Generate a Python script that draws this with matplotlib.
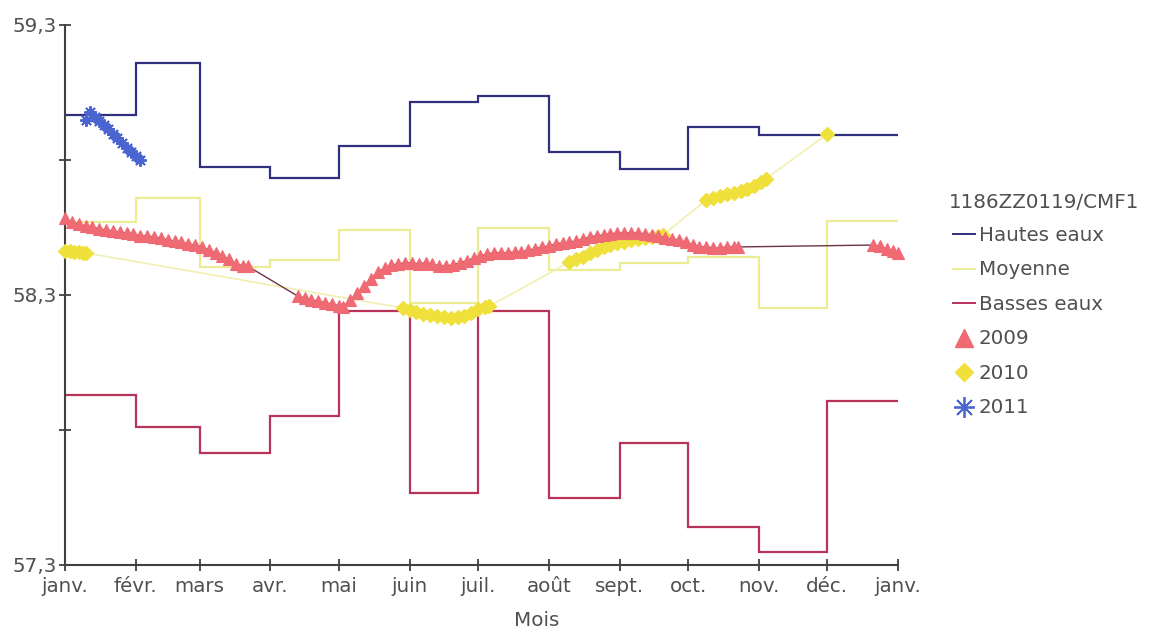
import matplotlib
matplotlib.use("Agg")
import matplotlib.pyplot as plt
from matplotlib.lines import Line2D

# Month boundaries (day of year) and their labels
month_edges = [0, 31, 59, 90, 120, 151, 181, 212, 243, 273, 304, 334, 365]
month_labels = ["janv.", "févr.", "mars", "avr.", "mai", "juin", "juil.",
                "août", "sept.", "oct.", "nov.", "déc.", "janv."]

# Monthly reference levels (m)
hautes_eaux = [58.967, 59.159, 58.774, 58.733, 58.852, 59.015,
               59.037, 58.830, 58.767, 58.922, 58.893, 58.893]
moyenne = [58.570, 58.659, 58.404, 58.430, 58.541, 58.270,
           58.548, 58.393, 58.419, 58.441, 58.252, 58.574]
basses_eaux = [57.930, 57.810, 57.716, 57.852, 58.242, 57.568,
               58.242, 57.547, 57.753, 57.440, 57.347, 57.909]

# Yearly measurements: day of year and level (m)
days_2009 = [0, 3, 6, 9, 12, 15, 18, 21, 24, 27, 30, 33, 36, 39, 42, 45, 48,
             51, 54, 57, 60, 63, 66, 69, 72, 75, 78, 80,
             102, 105, 108, 111, 114, 117, 120, 122, 125, 128, 131, 134, 137,
             140, 143, 146, 149, 152, 155, 158, 161, 164, 167, 170, 173, 176,
             179, 182, 185, 188, 191, 194, 197, 200, 203, 206, 209, 212, 215,
             218, 221, 224, 227, 230, 233, 236, 239, 242, 245, 248, 251, 254,
             257, 260, 263, 266, 269, 272, 275, 278, 281, 284, 287, 290, 293,
             295,
             354, 357, 360, 363, 365]
level_2009 = [58.585, 58.570, 58.563, 58.556, 58.552, 58.544, 58.541, 58.537,
              58.533, 58.530, 58.526, 58.519, 58.519, 58.515, 58.511, 58.504,
              58.500, 58.496, 58.489, 58.485, 58.478, 58.467, 58.456, 58.444,
              58.433, 58.415, 58.407, 58.407,
              58.296, 58.289, 58.281, 58.278, 58.270, 58.267, 58.259, 58.256,
              58.281, 58.307, 58.333, 58.359, 58.385, 58.400, 58.411, 58.415,
              58.419, 58.419, 58.415, 58.419, 58.415, 58.407, 58.407, 58.411,
              58.419, 58.426, 58.437, 58.444, 58.452, 58.456, 58.456, 58.456,
              58.459, 58.459, 58.467, 58.470, 58.478, 58.481, 58.489, 58.493,
              58.496, 58.500, 58.507, 58.515, 58.519, 58.522, 58.526, 58.530,
              58.530, 58.530, 58.530, 58.526, 58.522, 58.519, 58.511, 58.507,
              58.504, 58.496, 58.485, 58.478, 58.478, 58.474, 58.474, 58.478,
              58.478, 58.478,
              58.485, 58.481, 58.470, 58.463, 58.456]

days_2010 = [0, 2, 4, 6, 8, 9,
             148, 151, 154, 157, 160, 163, 166, 169, 172, 175, 178, 181, 184,
             186,
             221, 224, 227, 230, 233, 236, 239, 242, 245, 248, 251, 254, 257,
             260, 262,
             281, 284, 287, 290, 293, 296, 299, 302, 305, 307,
             334]
level_2010 = [58.463, 58.463, 58.461, 58.459, 58.457, 58.456,
              58.252, 58.244, 58.237, 58.230, 58.226, 58.222, 58.219, 58.215,
              58.217, 58.222, 58.233, 58.248, 58.256, 58.259,
              58.422, 58.433, 58.441, 58.456, 58.467, 58.478, 58.485, 58.493,
              58.496, 58.504, 58.507, 58.511, 58.515, 58.519, 58.522,
              58.652, 58.659, 58.667, 58.674, 58.678, 58.685, 58.693, 58.704,
              58.719, 58.730,
              58.896]

days_2011 = [9, 11, 13, 15, 17, 19, 21, 23, 25, 27, 29, 31, 33]
level_2011 = [58.950, 58.978, 58.959, 58.944, 58.930, 58.915, 58.896, 58.881,
              58.863, 58.844, 58.830, 58.815, 58.800]

station = "1186ZZ0119/CMF1"

# Colours
c_hautes = "#30307e"
c_moyenne = "#ecec94"
c_basses = "#b8325a"
c_2009 = "#f06a74"
c_2009_line = "#6e3446"
c_2010 = "#f0e03c"
c_2010_line = "#f2efb0"
c_2011 = "#4a64d0"
c_text = "#505050"
c_axis = "#404040"

plt.rcParams["font.family"] = ["DejaVu Sans"]
fs = 14.3

fig = plt.figure(figsize=(11.5, 6.31), dpi=100)
ax = fig.add_axes([65 / 1150, 66 / 631, 833 / 1150, 540 / 631])

ax.stairs(moyenne, month_edges, baseline=None, color=c_moyenne, lw=1.6, zorder=2)
ax.stairs(hautes_eaux, month_edges, baseline=None, color=c_hautes, lw=1.6, zorder=2)
ax.stairs(basses_eaux, month_edges, baseline=None, color=c_basses, lw=1.6, zorder=2)

ax.plot(days_2010, level_2010, color=c_2010_line, lw=1.2, zorder=3,
        marker="D", markersize=7, markerfacecolor=c_2010,
        markeredgecolor=c_2010, clip_on=False)
ax.plot(days_2009, level_2009, color=c_2009_line, lw=1.0, zorder=4,
        marker="^", markersize=8.5, markerfacecolor=c_2009,
        markeredgecolor=c_2009, markeredgewidth=0.8, clip_on=False)
ax.plot(days_2011, level_2011, linestyle="none", zorder=5,
        marker=(8, 2, 0), markersize=9, markeredgecolor=c_2011,
        markeredgewidth=1.4, clip_on=False)

ax.set_xlim(0, 365)
ax.set_ylim(57.3, 59.3)
ax.set_xticks(month_edges)
ax.set_xticklabels(month_labels)
yt = [57.3, 58.3, 59.3]
ax.set_yticks(yt)
ax.set_yticklabels([f"{v:.1f}".replace(".", ",") for v in yt])
ax.set_yticks([57.8, 58.8], minor=True)
ax.tick_params(which="both", direction="inout", length=8, width=1.3,
               color=c_axis, labelcolor=c_text, labelsize=fs)
ax.tick_params(axis="x", pad=4.5)
ax.tick_params(axis="y", pad=2)

for side in ("top", "right"):
    ax.spines[side].set_visible(False)
for side in ("left", "bottom"):
    ax.spines[side].set_color(c_axis)
    ax.spines[side].set_linewidth(1.5)

fig.text(537 / 1150, 1 - 620 / 631, "Mois", ha="center", va="center",
         fontsize=fs, color=c_text)

handles = [
    Line2D([], [], color=c_hautes, lw=1.4),
    Line2D([], [], color=c_moyenne, lw=1.4),
    Line2D([], [], color=c_basses, lw=1.4),
    Line2D([], [], linestyle="none", marker="^", markersize=13,
           markerfacecolor=c_2009, markeredgecolor=c_2009),
    Line2D([], [], linestyle="none", marker="D", markersize=9,
           markerfacecolor=c_2010, markeredgecolor=c_2010),
    Line2D([], [], linestyle="none", marker=(8, 2, 0), markersize=15,
           markeredgecolor=c_2011, markeredgewidth=1.3),
]
labels = ["Hautes eaux", "Moyenne", "Basses eaux", "2009", "2010", "2011"]
fig.text(949 / 1150, 1 - 203 / 631, station, ha="left", va="center",
         fontsize=fs, color=c_text)
leg = fig.legend(handles, labels, loc="upper left",
                 bbox_to_anchor=(953 / 1150, 1 - 226 / 631),
                 frameon=False, fontsize=fs, handlelength=1.1,
                 handletextpad=0.2, labelspacing=0.78, borderpad=0,
                 borderaxespad=0)
for t in leg.get_texts():
    t.set_color(c_text)

fig.savefig("out.png", dpi=100)
